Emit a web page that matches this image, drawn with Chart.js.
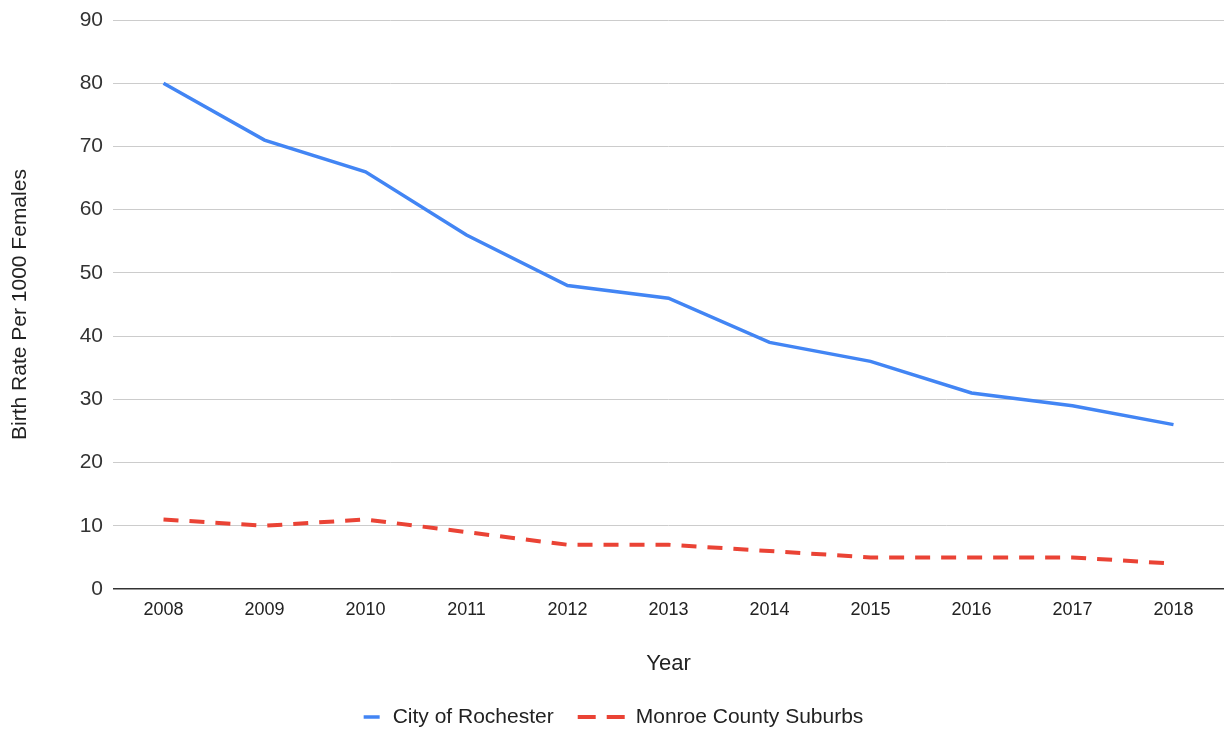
<!DOCTYPE html>
<html>
<head>
<meta charset="utf-8">
<script src="https://cdn.jsdelivr.net/npm/chart.js@4.4.0/dist/chart.umd.min.js"></script>
<style>
  html, body { margin: 0; padding: 0; background: #fff; }
  #wrap { width: 1227px; height: 729px; }
</style>
</head>
<body>
<div id="wrap"><canvas id="lineChart"></canvas></div>
<script>
const years = ['2008', '2009', '2010', '2011', '2012', '2013', '2014', '2015', '2016', '2017', '2018'];
const rochester = [80, 71, 66, 56, 48, 46, 39, 36, 31, 29, 26];
const suburbs = [11, 10, 11, 9, 7, 7, 6, 5, 5, 5, 4];
const yTicks = [0, 10, 20, 30, 40, 50, 60, 70, 80, 90];

const blue = '#4285f4';
const red = '#ea4335';
const font = "Arial, 'Liberation Sans', sans-serif";

// bottom legend, drawn by hand so each key can have its own length
const bottomLegend = {
    id: 'bottomLegend',
    afterDraw(chart) {
        const ctx = chart.ctx;
        const y = 717;
        const items = [
            { text: 'City of Rochester', color: blue, dash: [], len: 16, width: 3.5, gap: 13 },
            { text: 'Monroe County Suburbs', color: red, dash: [18, 11], len: 47, width: 4, gap: 11 }
        ];
        ctx.save();
        ctx.font = '21px ' + font;
        const gapItem = 24;
        let total = 0;
        items.forEach((it, i) => {
            it.tw = ctx.measureText(it.text).width;
            total += it.len + it.gap + it.tw + (i ? gapItem : 0);
        });
        let x = (chart.width - total) / 2;
        items.forEach((it, i) => {
            if (i) x += gapItem;
            ctx.beginPath();
            ctx.setLineDash(it.dash);
            ctx.strokeStyle = it.color;
            ctx.lineWidth = it.width;
            ctx.moveTo(x, y);
            ctx.lineTo(x + it.len, y);
            ctx.stroke();
            x += it.len + it.gap;
            ctx.fillStyle = '#222';
            ctx.textBaseline = 'middle';
            ctx.fillText(it.text, x, y);
            x += it.tw;
        });
        ctx.restore();
    }
};

new Chart(document.getElementById('lineChart'), {
    type: 'line',
    data: {
        labels: years,
        datasets: [{
            label: 'City of Rochester',
            data: rochester,
            borderColor: blue,
            backgroundColor: blue,
            borderWidth: 3.5,
            pointRadius: 0,
            tension: 0
        }, {
            label: 'Monroe County Suburbs',
            data: suburbs,
            borderColor: red,
            backgroundColor: red,
            borderWidth: 4,
            borderDash: [15, 11],
            pointRadius: 0,
            tension: 0
        }]
    },
    options: {
        responsive: true,
        maintainAspectRatio: false,
        animation: false,
        layout: { padding: { top: 20, right: 3, bottom: 50, left: 0 } },
        plugins: {
            legend: { display: false },
            tooltip: { enabled: false }
        },
        scales: {
            x: {
                offset: true,
                grid: { display: false },
                border: { display: false },
                ticks: { color: '#222', font: { size: 18, family: font }, padding: 2, maxRotation: 0 },
                title: { display: true, text: 'Year', color: '#222', font: { size: 22, family: font }, padding: { top: 4, bottom: 2 } },
                afterFit(scale) { scale.height = 90; }
            },
            y: {
                min: 0,
                max: 90,
                afterBuildTicks(scale) { scale.ticks = yTicks.map(v => ({ value: v })); },
                grid: {
                    color: c => c.tick && c.tick.value === 0 ? '#333' : '#ccc',
                    lineWidth: c => c.tick && c.tick.value === 0 ? 1.5 : 1,
                    drawTicks: false
                },
                border: { display: false },
                ticks: { color: '#333', font: { size: 21, family: font }, padding: 10 },
                title: { display: true, text: 'Birth Rate Per 1000 Females', color: '#222', font: { size: 21, family: font }, padding: { top: 8, bottom: 0 } },
                afterFit(scale) {
                    scale.width = 113;
                    scale.paddingTop = 0;
                    scale.paddingBottom = 0;
                }
            }
        }
    },
    plugins: [bottomLegend]
});
</script>
</body>
</html>
